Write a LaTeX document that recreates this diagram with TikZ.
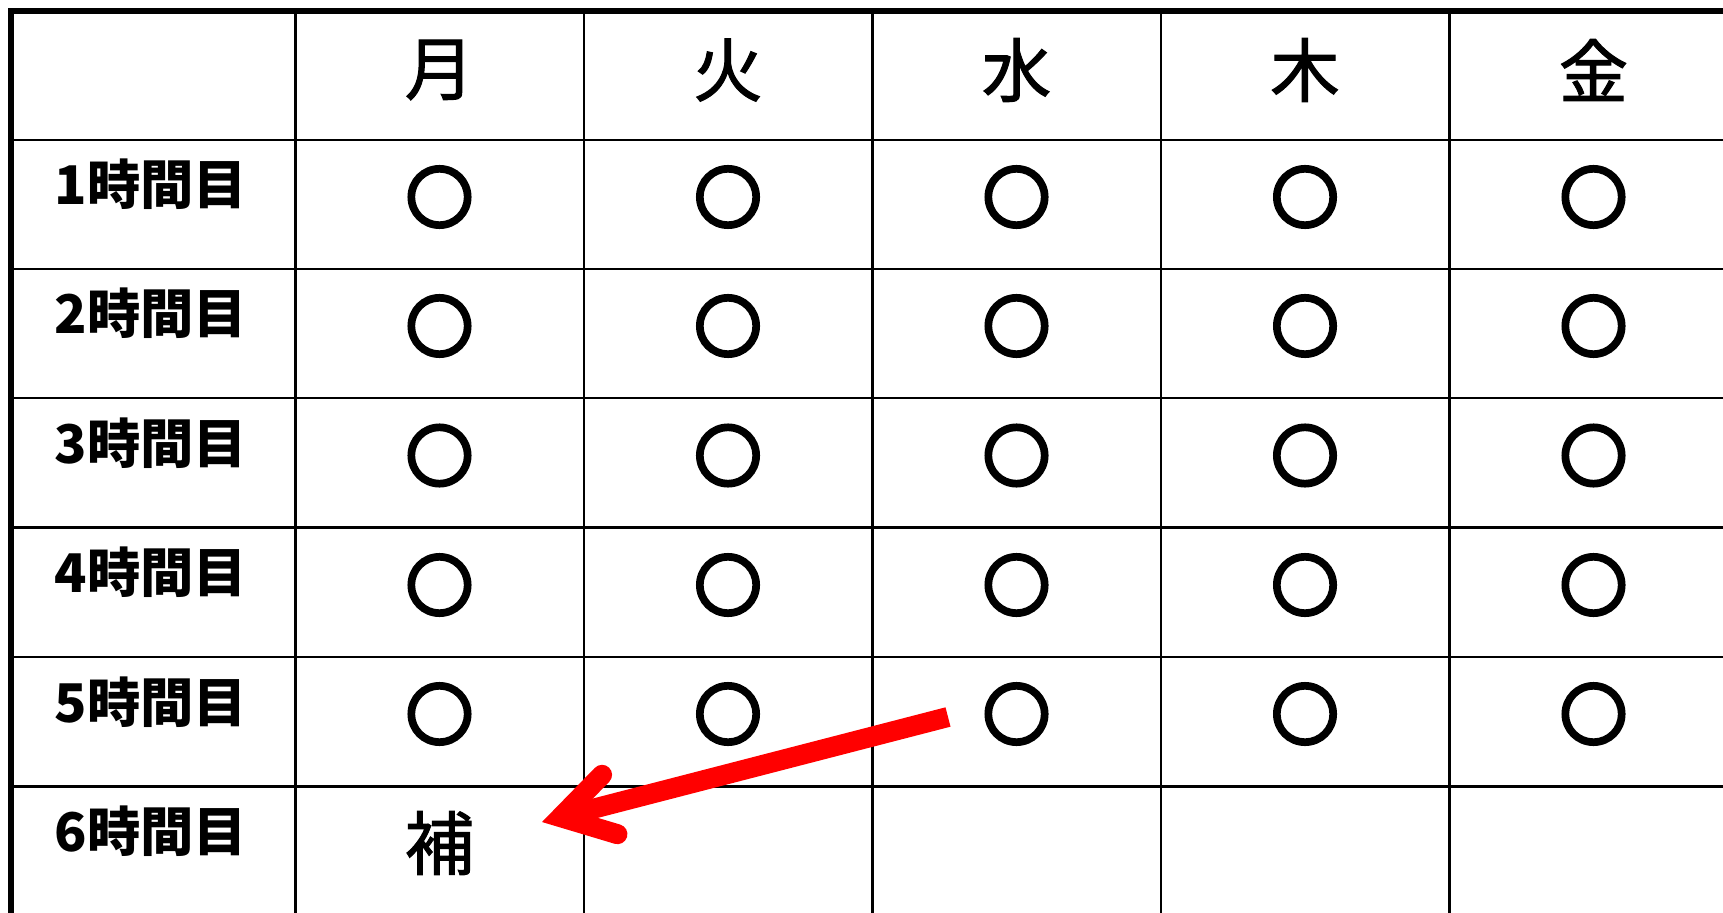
\documentclass[tikz,border=0pt]{standalone}
\usepackage{fontspec}
\setmainfont{Noto Sans CJK JP}
\newfontfamily\marufont[FakeBold=8]{Noto Sans CJK JP}
\newfontfamily\dayfont[FakeBold=1.5]{Noto Sans CJK JP}
\usetikzlibrary{arrows.meta}

\tikzset{every picture/.style={line width=2pt}}

\begin{document}
\begin{tikzpicture}[x=0.75pt,y=0.75pt,yscale=-1,xscale=1,
	day/.style={font=\fontsize{52}{52}\dayfont},
	period/.style={font=\fontsize{40}{40}\selectfont\bfseries},
	maru/.style={font=\fontsize{49}{49}\marufont},
	frame/.style={line width=4pt,line join=miter},
	redarrow/.style={draw=red,line width=15pt,-{Straight Barb[length=38pt,width=46pt,line cap=round,line join=miter]}}]
	\useasboundingbox (0,0) rectangle (1723,913);

	%Outer Frame
	\draw [frame]  (1730,11) -- (11,11) -- (11,920) ;
	%Straight Lines (columns)
	\draw    (295.5,11) -- (295.5,920) ;
	\draw    (584,11) -- (584,920) ;
	\draw    (872.5,11) -- (872.5,920) ;
	\draw    (1161,11) -- (1161,920) ;
	\draw    (1449.5,11) -- (1449.5,920) ;
	%Straight Lines (rows)
	\draw    (11,140) -- (1730,140) ;
	\draw    (11,269) -- (1730,269) ;
	\draw    (11,398) -- (1730,398) ;
	\draw    (11,527.5) -- (1730,527.5) ;
	\draw    (11,657) -- (1730,657) ;
	\draw    (11,786.5) -- (1730,786.5) ;
	\draw    (11,914) -- (1730,914) ;

	% Text Node (days)
	\node [day] (mon) at (439.5,70) {月};
	\node [day] (tue) at (728,70) {火};
	\node [day] (wed) at (1016.5,70) {水};
	\node [day] (thu) at (1305,70) {木};
	\node [day] (fri) at (1593.5,70) {金};

	% Text Node (periods)
	\node [period] (p1) at (151,184.5) {1時間目};
	\node [period] (p2) at (151,313.5) {2時間目};
	\node [period] (p3) at (151,443) {3時間目};
	\node [period] (p4) at (151,572.5) {4時間目};
	\node [period] (p5) at (151,702) {5時間目};
	\node [period] (p6) at (151,831) {6時間目};

	% Text Node (1st period)
	\node [maru] (m11) at (439.5,197) {○};
	\node [maru] (m12) at (728,197) {○};
	\node [maru] (m13) at (1016.5,197) {○};
	\node [maru] (m14) at (1305,197) {○};
	\node [maru] (m15) at (1593.5,197) {○};
	% Text Node (2nd period)
	\node [maru] (m21) at (439.5,326) {○};
	\node [maru] (m22) at (728,326) {○};
	\node [maru] (m23) at (1016.5,326) {○};
	\node [maru] (m24) at (1305,326) {○};
	\node [maru] (m25) at (1593.5,326) {○};
	% Text Node (3rd period)
	\node [maru] (m31) at (439.5,455.5) {○};
	\node [maru] (m32) at (728,455.5) {○};
	\node [maru] (m33) at (1016.5,455.5) {○};
	\node [maru] (m34) at (1305,455.5) {○};
	\node [maru] (m35) at (1593.5,455.5) {○};
	% Text Node (4th period)
	\node [maru] (m41) at (439.5,585) {○};
	\node [maru] (m42) at (728,585) {○};
	\node [maru] (m43) at (1016.5,585) {○};
	\node [maru] (m44) at (1305,585) {○};
	\node [maru] (m45) at (1593.5,585) {○};
	% Text Node (5th period)
	\node [maru] (m51) at (439.5,714) {○};
	\node [maru] (m52) at (728,714) {○};
	\node [maru] (m53) at (1016.5,714) {○};
	\node [maru] (m54) at (1305,714) {○};
	\node [maru] (m55) at (1593.5,714) {○};

	% Text Node (6th period)
	\node [day] (ho) at (439.5,843) {補};

	%Arrow
	\coordinate (hoTail) at (948,717);
	\coordinate (hoTip) at (542,822);
	\draw [redarrow]  (hoTail) -- (hoTip) ;

\end{tikzpicture}
\end{document}
